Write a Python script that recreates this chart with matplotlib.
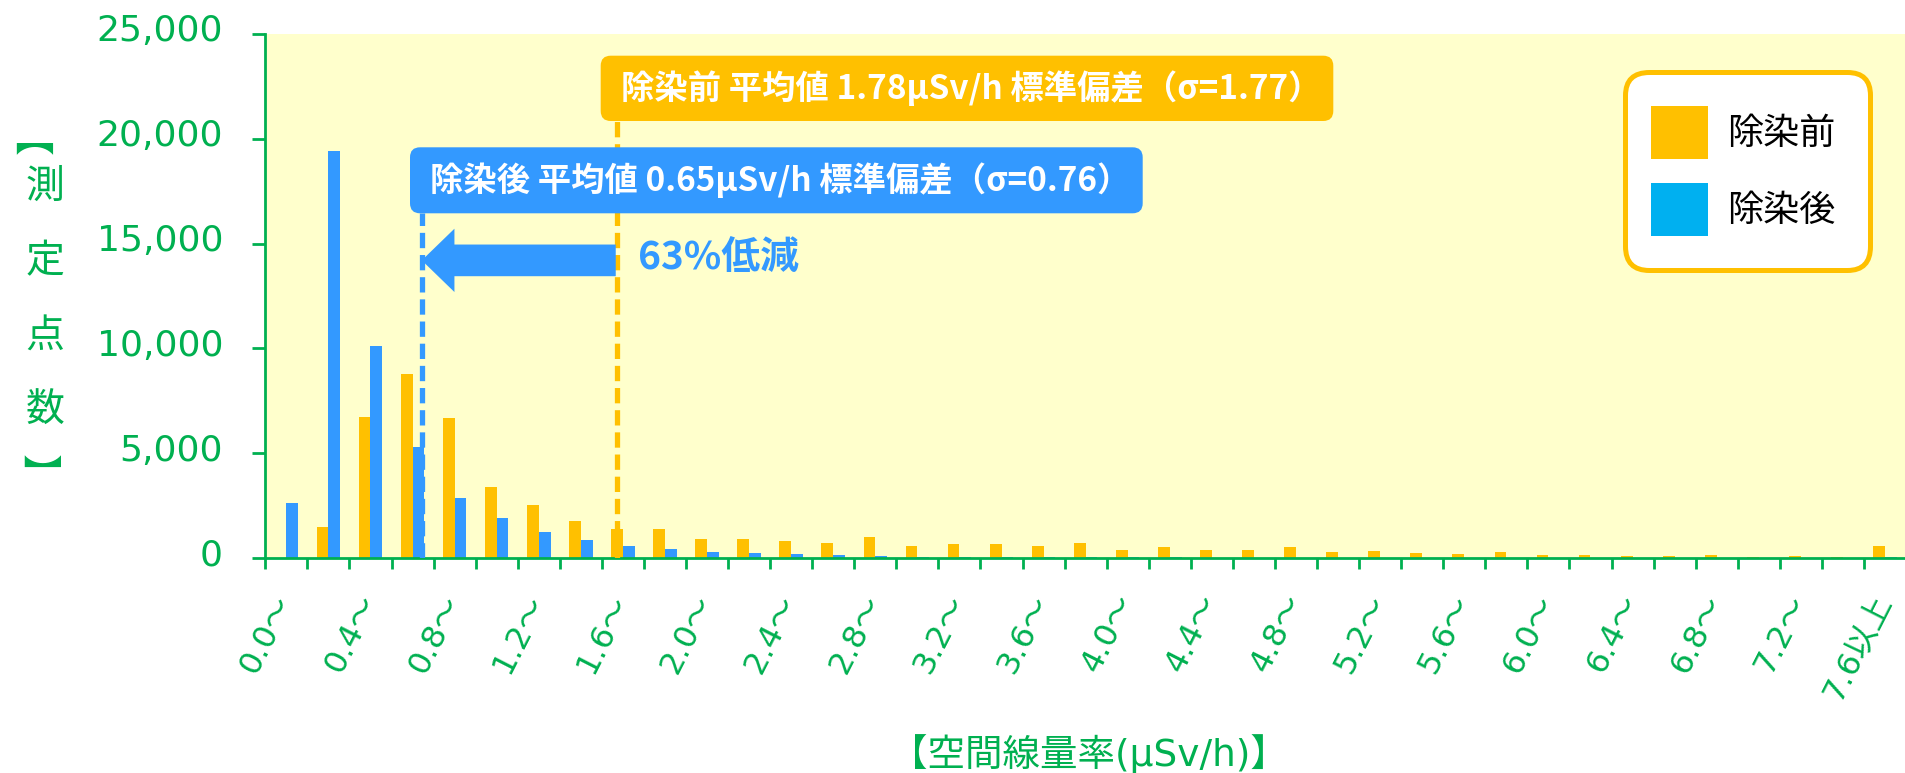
import numpy as np
import matplotlib.pyplot as plt
from matplotlib.patches import FancyBboxPatch, Patch, Rectangle
from matplotlib.legend_handler import HandlerPatch
from matplotlib.transforms import IdentityTransform, ScaledTranslation

plt.rcParams['font.family'] = ['DejaVu Sans', 'Noto Sans CJK JP']

# 空間線量率の区分 (0.2 μSv/h 刻み)
cats = ['0.0～', '0.2～', '0.4～', '0.6～', '0.8～', '1.0～', '1.2～', '1.4～',
        '1.6～', '1.8～', '2.0～', '2.2～', '2.4～', '2.6～', '2.8～', '3.0～',
        '3.2～', '3.4～', '3.6～', '3.8～', '4.0～', '4.2～', '4.4～', '4.6～',
        '4.8～', '5.0～', '5.2～', '5.4～', '5.6～', '5.8～', '6.0～', '6.2～',
        '6.4～', '6.6～', '6.8～', '7.0～', '7.2～', '7.4～', '7.6以上']

# 測定点数
before = [0, 1470, 6720, 8800, 6700, 3400, 2550, 1780, 1390, 1400, 900, 930,
          810, 720, 990, 590, 670, 680, 570, 710, 400, 520, 370, 400, 540, 300,
          350, 250, 210, 300, 140, 160, 110, 110, 160, 60, 110, 60, 590]
after = [2610, 19400, 10130, 5300, 2860, 1910, 1220, 850, 590, 450, 300, 230,
         190, 140, 100, 70, 60, 50, 50, 40, 40, 30, 20, 20, 15, 10, 10, 10, 8,
         8, 6, 6, 5, 5, 5, 4, 4, 4, 40]

yticks = [0, 5000, 10000, 15000, 20000, 25000]
mean_before = 7.87   # 平均値の位置 (区分軸上)
mean_after = 3.22

ORANGE = '#FFC000'
BLUE = '#3399FF'
CYAN = '#00B0F0'
GREEN = '#00B050'

W, H = 1906, 773
fig = plt.figure(figsize=(W / 100, H / 100), dpi=100)

# 縦書きの括弧 (回転した文字のインク位置を実測して合わせる)
brackets = [(fig.text(36 / W, 1 - 148 / H, '】', ha='center', va='center', color=GREEN,
                      fontsize=28, rotation=90, family=['Noto Sans CJK JP']), 35, 148),
            (fig.text(36 / W, 1 - 461 / H, '【', ha='center', va='center', color=GREEN,
                      fontsize=28, rotation=90, family=['Noto Sans CJK JP']), 35, 461)]
fig.canvas.draw()
img = np.asarray(fig.canvas.buffer_rgba())[:, :, :3].astype(int)
for t, tx, ty in brackets:
    bb = t.get_window_extent()
    r0, r1 = max(int(H - bb.y1) - 2, 0), int(H - bb.y0) + 2
    c0, c1 = max(int(bb.x0) - 2, 0), int(bb.x1) + 2
    rows, cols = np.nonzero(img[r0:r1, c0:c1].sum(axis=2) < 600)
    if len(rows):
        cx = c0 + (cols.min() + cols.max() + 1) / 2
        cy = r0 + (rows.min() + rows.max() + 1) / 2
        px, py = t.get_position()
        t.set_position((px + (tx - cx) / W, py - (ty - cy) / H))

ax = fig.add_axes([265.3 / W, 1 - 558 / H, 1 - 265.3 / W, (558 - 34) / H])
ax.set_facecolor('#FFFFCC')

x = np.arange(len(cats))
ax.bar(x, before, width=-0.28, align='edge', color=ORANGE, linewidth=0, zorder=2)
ax.bar(x, after, width=0.28, align='edge', color=BLUE, linewidth=0, zorder=2)

ax.set_xlim(-0.5, len(cats) - 0.5)
ax.set_ylim(0, 25000)
for s in ['top', 'right']:
    ax.spines[s].set_visible(False)
for s in ['left', 'bottom']:
    ax.spines[s].set_color(GREEN)
    ax.spines[s].set_linewidth(2)

ax.set_yticks(yticks)
ax.set_yticklabels([f'{v:,}' for v in yticks])
ax.tick_params(axis='y', colors=GREEN, labelsize=26, length=9.4, width=2, pad=21)
up = ScaledTranslation(0, 6 / 100, fig.dpi_scale_trans)
for lbl in ax.get_yticklabels():
    lbl.set_transform(lbl.get_transform() + up)

ax.set_xticks(x[::2])
ax.set_xticklabels(cats[::2], rotation=63, ha='right', va='center',
                   rotation_mode='anchor')
ax.set_xticks(np.arange(-0.5, len(cats), 1), minor=True)
ax.tick_params(axis='x', which='major', length=0, colors=GREEN, labelsize=23, pad=28)
ax.tick_params(axis='x', which='minor', length=8, width=2, color=GREEN)

# 平均値の破線
ax.plot([mean_before, mean_before], [0, 20850], color=ORANGE, lw=3.8,
        ls=(0, (2.9, 1.3)), zorder=3)
ax.plot([mean_after, mean_after], [0, 16450], color=BLUE, lw=3.8,
        ls=(0, (2.9, 1.3)), zorder=3)

# 矢印
ax.annotate('', xy=(mean_after, 14200), xytext=(mean_before - 0.04, 14200),
            arrowprops=dict(arrowstyle='simple,head_length=23.5,head_width=45.6,tail_width=22.8',
                            mutation_scale=1, fc=BLUE, ec='none', shrinkA=0, shrinkB=0),
            zorder=4)
fig.text(638 / W, 1 - 257.5 / H, '63%低減', ha='left', va='center', color=BLUE,
         fontsize=28, fontweight='bold', family=['Noto Sans CJK JP'])

# 平均値のラベル
def label_box(x0, y_top, w, h, color, txt):
    box = FancyBboxPatch((x0, H - y_top - h), w, h,
                         boxstyle='round,pad=0,rounding_size=10',
                         fc=color, ec='none', transform=IdentityTransform())
    fig.add_artist(box)
    fig.text((x0 + w / 2 + 4) / W, 1 - (y_top + h / 2) / H, txt, ha='center',
             va='center', color='white', fontsize=24, fontweight='bold',
             family=['Noto Sans CJK JP'])

label_box(600.7, 55.7, 732.6, 65.3, ORANGE, '除染前 平均値 1.78μSv/h 標準偏差（σ=1.77）')
label_box(410, 147.3, 732.7, 66, BLUE, '除染後 平均値 0.65μSv/h 標準偏差（σ=0.76）')

# 凡例
def left_square(legend, orig_handle, xdescent, ydescent, width, height, fontsize):
    return Rectangle((-xdescent - 6, -ydescent), width, height)

leg = ax.legend(handles=[Patch(fc=ORANGE), Patch(fc=CYAN)], labels=['除染前', '除染後'],
                loc='upper right', bbox_to_anchor=(1870 / W, 1 - 71.5 / H),
                bbox_transform=fig.transFigure,
                prop={'family': 'Noto Sans CJK JP', 'size': 26},
                handler_map={Patch: HandlerPatch(patch_func=left_square)},
                handlelength=1.58, handleheight=1.88, handletextpad=0.3,
                labelspacing=0.66, borderpad=0.95, borderaxespad=0,
                fancybox=True, framealpha=1, facecolor='white', edgecolor=ORANGE)
leg.get_frame().set_linewidth(3.6)
leg.get_frame().set_boxstyle('round,pad=0,rounding_size=0.65')

# 軸ラベル
fig.text(1089 / W, 1 - 754 / H, '【空間線量率(μSv/h)】', ha='center', va='center',
         color=GREEN, fontsize=27)
for ch, yy in zip('測定点数', [187, 261, 337, 411]):
    fig.text(45 / W, 1 - yy / H, ch, ha='center', va='center', color=GREEN,
             fontsize=28, family=['Noto Sans CJK JP'])

fig.savefig('out.png', dpi=100)
